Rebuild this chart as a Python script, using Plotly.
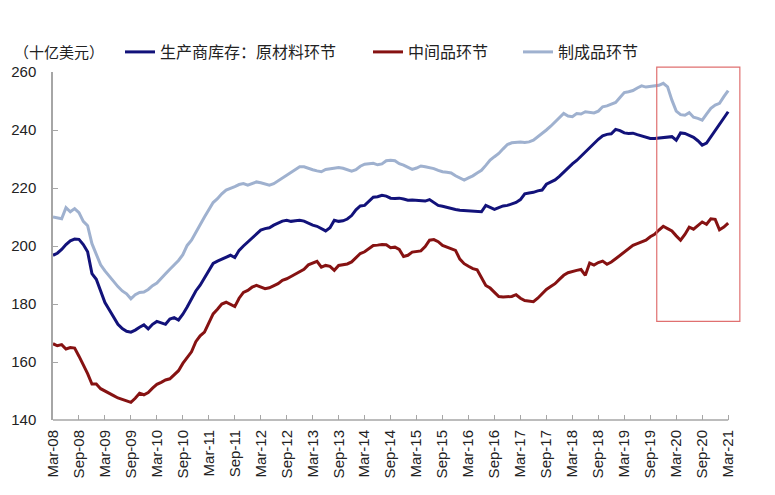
import plotly.graph_objects as go

# ---------------- data (monthly, Mar-08 .. Mar-21) ----------------
raw_materials = [
    196.8, 197.5, 198.8, 200.5, 201.8, 202.4, 202.3, 200.5, 198.0, 190.5, 188.5, 184.5,
    180.5, 178.0, 175.5, 173.0, 171.5, 170.6, 170.3, 171.0, 172.0, 172.8, 171.4, 173.0,
    174.0, 173.5, 173.0, 174.8, 175.3, 174.5, 176.5, 179.0, 182.0, 184.5, 186.5, 189.0,
    191.5, 194.0, 194.8, 195.5, 196.0, 196.8, 196.0, 198.5, 200.0, 201.4, 202.5, 204.0,
    205.5, 206.0, 206.3, 207.2, 207.8, 208.6, 208.9, 208.5, 208.7, 208.9, 208.6, 207.8,
    207.2, 206.8, 206.0, 205.2, 206.3, 208.9, 208.5, 208.7, 209.3, 210.5, 212.5, 213.8,
    214.0, 215.5, 216.8, 217.0, 217.5, 217.2, 216.5, 216.4, 216.5, 216.2, 215.8, 215.9,
    215.8, 215.6, 215.5, 216.0, 215.0, 214.0, 213.7, 213.3, 212.8, 212.6, 212.3, 212.2,
    212.0, 211.8, 211.7, 211.8, 214.0, 213.2, 212.6, 213.2, 213.8, 214.0, 214.5, 215.0,
    216.0, 218.0, 218.3, 218.5, 219.0, 219.3, 221.3, 222.0, 222.8, 224.0, 225.5, 227.0,
    228.3, 229.5, 231.0, 232.5, 234.0, 235.5, 236.8, 238.0, 238.5, 238.7, 240.2, 239.8,
    239.0, 238.8, 238.9, 238.4, 238.0, 237.5, 237.1, 237.1, 237.3, 237.4, 237.6, 237.7,
    236.5, 239.0, 238.8, 238.2, 237.5, 236.3, 234.8, 235.5, 237.6, 240.0, 241.7, 244.0,
    246.3,
]

intermediate = [
    166.3, 165.6, 166.0, 164.5, 165.0, 164.8, 162.0, 159.0, 156.0, 152.4, 152.4, 150.8,
    149.9, 149.0, 148.4, 147.6, 147.1, 146.7, 146.1, 147.5, 149.2, 148.7, 149.5, 151.0,
    152.3, 153.0, 153.8, 154.2, 155.5, 157.0, 159.5, 161.5, 163.5, 167.0, 169.0, 170.3,
    173.5, 176.6, 178.2, 180.0, 180.6, 179.8, 179.1, 182.0, 184.0, 184.7, 185.8, 186.4,
    185.8, 185.3, 185.6, 186.2, 187.0, 188.2, 188.7, 189.5, 190.3, 191.0, 192.0, 193.5,
    194.0, 194.7, 192.7, 193.3, 193.0, 191.6, 193.3, 193.5, 193.8, 194.5, 196.0, 197.4,
    198.0, 199.0, 200.2, 200.3, 200.5, 200.4, 199.4, 199.6, 198.8, 196.4, 196.8, 197.9,
    198.0, 198.3, 199.8, 202.0, 202.2, 201.5, 200.2, 199.6, 199.0, 198.5, 195.5, 193.9,
    193.0, 192.2, 191.8, 189.0, 186.4, 185.5, 184.1, 182.6, 182.4, 182.4, 182.6, 183.2,
    182.0, 181.2, 181.0, 180.8, 182.0, 183.5, 185.0, 186.0, 187.0, 188.5, 189.9, 190.8,
    191.3, 191.6, 191.9, 189.9, 194.1, 193.4, 194.3, 194.8, 193.7, 194.5, 195.6, 196.8,
    197.9, 199.0, 200.2, 200.8, 201.3, 202.0, 203.2, 204.0, 205.5, 206.8, 206.0, 205.2,
    203.5, 202.0, 204.0, 206.5, 205.8, 207.0, 208.3, 207.5, 209.4, 209.2, 205.6, 206.5,
    207.9,
]

finished = [
    210.0, 209.6, 209.4, 213.2, 211.8, 212.9, 211.5, 208.5, 207.0, 200.8, 197.0, 193.5,
    191.4, 189.5, 187.5, 186.0, 184.5, 183.5, 181.8, 183.2, 184.0, 184.1, 185.0, 186.3,
    187.2, 189.0, 190.4, 192.0, 193.5, 195.0, 197.0, 200.2, 202.0, 204.8, 207.5, 210.0,
    212.5, 215.0, 216.3, 218.0, 219.3, 219.8, 220.5, 221.2, 221.5, 221.0, 221.6, 222.1,
    221.8, 221.5, 221.0, 221.5, 222.5, 223.5, 224.5, 225.3, 226.2, 227.3, 227.3, 226.7,
    226.3, 225.9, 225.6, 226.4, 226.7, 226.8, 227.1, 226.8, 226.3, 225.8, 226.3, 227.5,
    228.2, 228.4, 228.5, 228.0, 228.3, 229.4, 229.6, 229.4, 228.4, 227.9, 227.2, 226.4,
    226.9, 227.6, 227.3, 227.1, 226.7, 226.1, 225.6, 225.4, 225.2, 224.2, 223.5, 222.7,
    223.5, 224.2, 225.2, 226.1, 227.8, 229.6, 230.8, 231.9, 233.5, 235.0, 235.6, 235.8,
    235.9, 235.7, 235.9, 236.5, 237.6, 238.7, 240.0, 241.3, 242.8, 244.0, 245.7, 244.8,
    244.6, 245.7, 245.5, 246.3, 246.0, 245.9, 246.5, 248.0, 248.3, 249.0, 249.5, 251.2,
    252.9, 253.2, 253.6, 254.5, 255.2, 254.8, 255.0, 255.2, 255.4, 256.1, 254.9, 250.3,
    246.5, 245.3, 245.1, 246.0, 244.4, 244.0, 243.4, 245.5, 247.5, 248.6, 249.2, 251.5,
    253.6,
]

tick_labels = [
    "Mar-08", "Sep-08", "Mar-09", "Sep-09", "Mar-10", "Sep-10", "Mar-11", "Sep-11",
    "Mar-12", "Sep-12", "Mar-13", "Sep-13", "Mar-14", "Sep-14", "Mar-15", "Sep-15",
    "Mar-16", "Sep-16", "Mar-17", "Sep-17", "Mar-18", "Sep-18", "Mar-19", "Sep-19",
    "Mar-20", "Sep-20", "Mar-21",
]

series_names = ["生产商库存：原材料环节", "中间品环节", "制成品环节"]
unit_label = "（十亿美元）"

# highlighted window (month index / value units)
highlight_x = [139.5, 158.7]
highlight_y = [174.0, 261.7]

# ---------------- styling ----------------
W, H = 775, 495
ML, MR, MT, MB = 53, 20, 72, 75
Y_RANGE = [140, 260]
X_RANGE = [0, 162.2]
AXIS_GREY = "#a6a6a6"
TICK_FONT = dict(family="Arial, Liberation Sans, sans-serif", size=15, color="#222222")
CJK_FONT = dict(family="Noto Sans CJK SC, sans-serif", size=15, color="#222222")
colors = ["#12127a", "#861212", "#9fb1cf"]

x = list(range(len(raw_materials)))
tick_vals = [i * 6 for i in range(len(tick_labels))]

fig = go.Figure()
legend_ids = ["legend", "legend2", "legend3"]
for name, ys, col, lg in zip(series_names, [raw_materials, intermediate, finished], colors, legend_ids):
    fig.add_trace(go.Scatter(
        x=x, y=ys, mode="lines", name=name,
        line=dict(color=col, width=3),
        cliponaxis=False, legend=lg, hoverinfo="skip",
    ))

legend_text_px = [160, 408, 558]   # left edge of legend text
legend_common = dict(
    orientation="h", xref="container", yref="container",
    yanchor="middle", y=1 - 52 / H, xanchor="left",
    font=dict(family="Noto Sans CJK SC, sans-serif", size=16, color="#222222"),
    bgcolor="rgba(0,0,0,0)", borderwidth=0, itemwidth=30,
)

pw = W - ML - MR
ph = H - MT - MB

fig.update_layout(
    width=W, height=H,
    margin=dict(l=ML, r=MR, t=MT, b=MB, pad=0, autoexpand=False),
    paper_bgcolor="white", plot_bgcolor="white",
    showlegend=True,
    legend=dict(legend_common, x=(legend_text_px[0] - 40) / W),
    legend2=dict(legend_common, x=(legend_text_px[1] - 40) / W),
    legend3=dict(legend_common, x=(legend_text_px[2] - 40) / W),
    xaxis=dict(
        range=X_RANGE, tickmode="array", tickvals=tick_vals, ticktext=tick_labels,
        tickangle=-90, ticks="inside", ticklen=5, tickwidth=1, tickcolor=AXIS_GREY,
        showline=False, showgrid=False, zeroline=False, tickfont=TICK_FONT,
        ticklabelstandoff=6,
    ),
    yaxis=dict(
        range=Y_RANGE, tickmode="array", tickvals=[140, 160, 180, 200, 220, 240, 260],
        ticks="inside", ticklen=5, tickwidth=1, tickcolor=AXIS_GREY,
        showline=True, linecolor=AXIS_GREY, linewidth=1.5,
        showgrid=False, zeroline=False, tickfont=TICK_FONT, ticklabelstandoff=12,
    ),
)

# x-axis baseline only as far as the last tick
fig.add_shape(type="line", xref="x", yref="y domain",
              x0=tick_vals[0], x1=tick_vals[-1], y0=0, y1=0,
              line=dict(color=AXIS_GREY, width=1.5), layer="above")

# highlight rectangle
def ydom(v):
    return (v - Y_RANGE[0]) / (Y_RANGE[1] - Y_RANGE[0])

fig.add_shape(type="rect", xref="x", yref="y domain",
              x0=highlight_x[0], x1=highlight_x[1],
              y0=ydom(highlight_y[0]), y1=ydom(highlight_y[1]),
              line=dict(color="#e07070", width=1.2), fillcolor="rgba(0,0,0,0)",
              layer="above")

# unit label
fig.add_annotation(text=unit_label, xref="paper", yref="paper",
                   x=(12 - ML) / pw, y=1 + (MT - 52) / ph,
                   xanchor="left", yanchor="middle", showarrow=False,
                   font=CJK_FONT)

fig.write_html("out.html")
